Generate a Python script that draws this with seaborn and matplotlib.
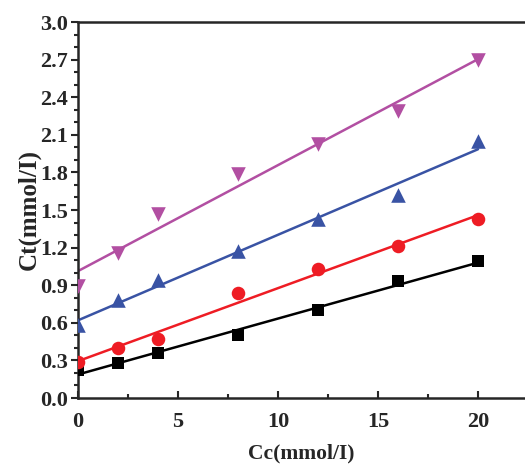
import numpy as np
import pandas as pd
import matplotlib
matplotlib.use("Agg")
import matplotlib.pyplot as plt
from matplotlib.ticker import MultipleLocator
import seaborn as sns

# Cc (mmol/l) values and measured Ct (mmol/l) for the four series
cc = [0, 2, 4, 8, 12, 16, 20]
ct_black = [0.22, 0.28, 0.36, 0.50, 0.70, 0.93, 1.09]
ct_red = [0.29, 0.40, 0.47, 0.84, 1.03, 1.21, 1.43]
ct_blue = [0.58, 0.78, 0.94, 1.17, 1.43, 1.62, 2.05]
ct_magenta = [0.89, 1.16, 1.47, 1.79, 2.03, 2.29, 2.70]

series = [
    (ct_black, "black", "s", 80),
    (ct_red, "#ee1c24", "o", 95),
    (ct_blue, "#3953a4", "^", 110),
    (ct_magenta, "#b24fa2", "v", 110),
]

sns.set_style("ticks")
plt.rcParams["font.family"] = ["Liberation Serif", "DejaVu Serif"]
plt.rcParams["font.weight"] = "bold"

fig = plt.figure(figsize=(5.25, 4.72), dpi=100)
ax = fig.add_axes([78 / 525, 74 / 472, 1 - 78 / 525, 376 / 472])

for ct, color, marker, size in series:
    df = pd.DataFrame({"Cc": cc, "Ct": ct})
    sns.regplot(data=df, x="Cc", y="Ct", ax=ax, ci=None, color=color,
                marker=marker,
                scatter_kws={"s": size, "alpha": 1, "linewidths": 0, "zorder": 3},
                line_kws={"lw": 1.8, "zorder": 2})

ax.set_xlim(0, 22.35)
ax.set_ylim(0, 3.0)
ax.xaxis.set_major_locator(MultipleLocator(5))
ax.xaxis.set_minor_locator(MultipleLocator(2.5))
ax.yaxis.set_major_locator(MultipleLocator(0.3))
ax.yaxis.set_minor_locator(MultipleLocator(0.1))
ax.yaxis.set_major_formatter(plt.FormatStrFormatter("%.1f"))

ax.tick_params(axis="x", which="both", direction="in", pad=10)
ax.tick_params(axis="y", which="both", direction="out", pad=2)
ax.tick_params(which="major", length=5, width=1.5, labelsize=16)
ax.tick_params(which="minor", length=3, width=1.5)
for lab in ax.get_xticklabels() + ax.get_yticklabels():
    lab.set_fontweight("bold")

for side in ["left", "bottom", "top"]:
    ax.spines[side].set_linewidth(1.8)
    ax.spines[side].set_visible(True)
ax.spines["right"].set_visible(False)

ax.set_xlabel("Cc(mmol/I)", fontsize=15.5, fontweight="bold", labelpad=8)
ax.set_ylabel("Ct(mmol/I)", fontsize=18, fontweight="bold", labelpad=0)

fig.savefig("out.png", dpi=100)
